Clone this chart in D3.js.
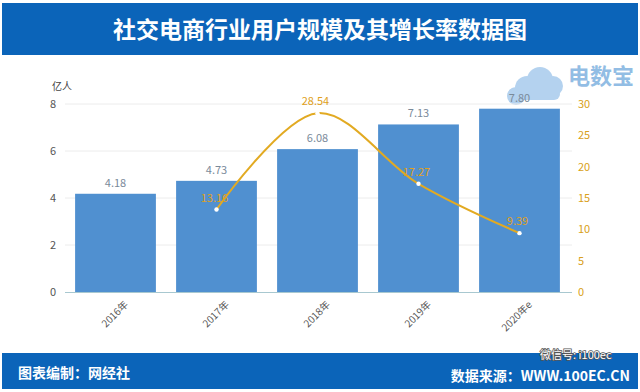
<!DOCTYPE html>
<html><head><meta charset="utf-8">
<script src="https://cdn.jsdelivr.net/npm/d3@7"></script>
<style>body{margin:0;background:#fff}svg{display:block}</style>
</head><body>
<svg id="c" width="640" height="392"></svg>
<script>
const title = "社交电商行业用户规模及其增长率数据图";
const categories = ["2016年","2017年","2018年","2019年","2020年e"];
const users = [4.18, 4.73, 6.08, 7.13, 7.80];
const growthCats = ["2017年","2018年","2019年","2020年e"];
const growth = [13.16, 28.54, 17.27, 9.39];
const leftTicks = [0,2,4,6,8];
const rightTicks = [0,5,10,15,20,25,30];
const unit = "亿人";
const footerLeft = "图表编制：网经社";
const footerRight = "数据来源：WWW.100EC.CN";

const svg = d3.select("#c");
const font = "'Microsoft YaHei','Noto Sans CJK SC',sans-serif";
const blue = "#0b64b9";

// header
svg.append("rect").attr("x",2).attr("y",3).attr("width",636).attr("height",52).attr("fill",blue);
svg.append("text").attr("x",320).attr("y",38).attr("text-anchor","middle")
  .attr("fill","#fff").attr("font-family",font).attr("font-weight","bold").attr("font-size",23).text(title);

// footer
svg.append("rect").attr("x",2).attr("y",353).attr("width",636).attr("height",36).attr("fill",blue);
svg.append("text").attr("x",18).attr("y",378).attr("fill","#fff").attr("font-family",font)
  .attr("font-weight","bold").attr("font-size",14).text(footerLeft);
svg.append("text").attr("x",630).attr("y",381).attr("text-anchor","end").attr("fill","#fff").attr("font-family",font)
  .attr("font-weight","bold").attr("font-size",14).text(footerRight);

const x = d3.scaleBand().domain(categories).range([65,570]).paddingInner(0.2).paddingOuter(0.1);
const yL = d3.scaleLinear().domain([0,8]).range([292,104]);
const yR = d3.scaleLinear().domain([0,30]).range([292,104]);

// watermark cloud logo (behind)
const logo = svg.append("g").attr("fill","#9cc4ea").attr("opacity",0.75);
[[527,88,12],[540,80,13],[553,86,10],[516,96,9]].forEach(c=>logo.append("circle").attr("cx",c[0]).attr("cy",c[1]).attr("r",c[2]));
logo.append("rect").attr("x",508).attr("y",88).attr("width",52).attr("height",12).attr("rx",6);

// gridlines
svg.append("g").selectAll("line").data(leftTicks.slice(1)).join("line")
  .attr("x1",65).attr("x2",572).attr("y1",d=>yL(d)).attr("y2",d=>yL(d))
  .attr("stroke","#ececec").attr("stroke-width",1);

// left axis
const gl = svg.append("g").attr("transform","translate(65,0)")
  .call(d3.axisLeft(yL).tickValues(leftTicks).tickSize(0).tickPadding(9));
gl.select(".domain").remove();
gl.selectAll("text").attr("font-family",font).attr("font-size",11).attr("fill","#555");
svg.append("text").attr("x",52).attr("y",90).attr("font-family",font).attr("font-size",10).attr("fill","#444").text(unit);

// right axis
const gr = svg.append("g").attr("transform","translate(572,0)")
  .call(d3.axisRight(yR).tickValues(rightTicks).tickSize(0).tickPadding(6));
gr.select(".domain").remove();
gr.selectAll("text").attr("font-family",font).attr("font-size",11).attr("fill","#d9a020");

// bars
svg.append("g").selectAll("rect").data(users).join("rect")
  .attr("x",(d,i)=>x(categories[i])).attr("width",x.bandwidth())
  .attr("y",d=>yL(d)).attr("height",d=>yL(0)-yL(d)).attr("fill","#5090d0");
svg.append("g").selectAll("text").data(users).join("text")
  .attr("x",(d,i)=>x(categories[i])+x.bandwidth()/2).attr("y",d=>yL(d)-7)
  .attr("text-anchor","middle").attr("font-family",font).attr("font-size",11).attr("fill","#7a8a9a")
  .text(d=>d.toFixed(2));

// bottom axis
const gb = svg.append("g").attr("transform","translate(0,292)")
  .call(d3.axisBottom(x).tickSize(0).tickPadding(6));
gb.select(".domain").attr("stroke","#a8c8d0").attr("d","M65,0.5H572");
gb.selectAll("text").attr("font-family",font).attr("font-size",10).attr("fill","#555")
  .attr("text-anchor","end").attr("transform","translate(4,4) rotate(-45)");

// line
const pts = growth.map((g,i)=>[x(growthCats[i])+x.bandwidth()/2, yR(g)]);
svg.append("path").attr("d",d3.line().curve(d3.curveCatmullRom.alpha(0.5))(pts))
  .attr("fill","none").attr("stroke","#e2aa22").attr("stroke-width",2);
svg.append("g").selectAll("circle").data(pts).join("circle")
  .attr("cx",d=>d[0]).attr("cy",d=>d[1]).attr("r",2.2).attr("fill","#fff");
svg.append("g").selectAll("text").data(growth).join("text")
  .attr("x",(d,i)=>pts[i][0]-2).attr("y",(d,i)=>pts[i][1]-8)
  .attr("text-anchor","middle").attr("font-family",font).attr("font-size",11).attr("fill","#e0a020")
  .text(d=>d.toFixed(2));

// watermark texts
svg.append("text").attr("x",568).attr("y",84).attr("font-family",font).attr("font-weight","bold")
  .attr("font-size",22).attr("fill","#7fb2e0").attr("opacity",0.85).text("电数宝");
svg.append("text").attr("x",540).attr("y",359).attr("font-family",font)
  .attr("font-size",11).attr("fill","#fff").attr("stroke","#555").attr("stroke-width",1.5)
  .attr("paint-order","stroke").text("微信号: i100ec");
</script>
</body></html>
